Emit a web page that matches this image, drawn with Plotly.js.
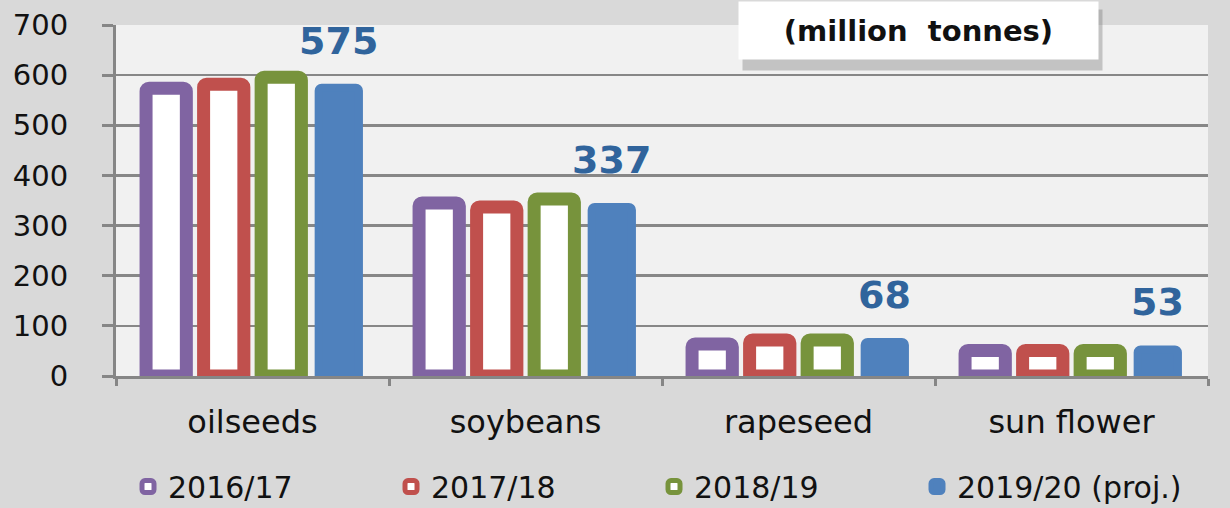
<!DOCTYPE html>
<html>
<head>
<meta charset="utf-8">
<script src="https://cdn.plot.ly/plotly-3.0.1.min.js"></script>
<style>
html,body{margin:0;padding:0;background:#d9d9d9;}
#chart{width:1230px;height:508px;}
</style>
</head>
<body>
<div id="chart"></div>
<script>
// Data (million tonnes)
const categories = ["oilseeds", "soybeans", "rapeseed", "sun\u00a0flower"];
const seriesNames = ["2016/17", "2017/18", "2018/19", "2019/20 (proj.)"];
const v2016 = [574, 345, 64, 51];
const v2017 = [582, 337, 72, 51];
const v2018 = [596, 353, 72, 51];
const v2019 = [575, 337, 68, 53];
const labelValues = [575, 337, 68, 53];
const yTicks = [0, 100, 200, 300, 400, 500, 600, 700];
const unitText = "(million\u00a0\u00a0tonnes)";

const colors = ["#8064A2", "#C0504D", "#77933C", "#4F81BD"];
const allValues = [v2016, v2017, v2018, v2019];

const traces = allValues.map((vals, i) => {
  const outlined = i < 3;
  return {
    type: "bar",
    name: seriesNames[i],
    x: categories,
    y: vals,
    marker: {
      color: outlined ? "#ffffff" : colors[i],
      line: {color: colors[i], width: outlined ? 13 : 8},
      cornerradius: 3
    },
    hoverinfo: "skip"
  };
});

const annotations = [];
// shadow of the unit box
annotations.push({
  xref: "paper", yref: "paper",
  x: (742 - 116) / 1092, y: (376 - 9) / 351,
  xanchor: "left", yanchor: "top",
  text: " ", showarrow: false,
  width: 359, height: 60, borderpad: 0,
  bgcolor: "rgba(110,110,110,0.35)"
});
annotations.push({
  xref: "paper", yref: "paper",
  x: (738 - 116) / 1092, y: (376 - 1) / 351,
  xanchor: "left", yanchor: "top",
  text: "<b>" + unitText + "</b>", showarrow: false,
  width: 359, height: 57, borderpad: 0,
  bgcolor: "#ffffff",
  font: {family: "DejaVu Sans", size: 29, color: "#111111"}
});
labelValues.forEach((v, i) => {
  annotations.push({
    xref: "x", yref: "y",
    x: categories[i], y: v,
    xshift: 86, yshift: 47,
    xanchor: "center", yanchor: "middle",
    text: "<b>" + v + "</b>", showarrow: false,
    font: {family: "DejaVu Sans", size: 38, color: "#30649C"}
  });
});

const layout = {
  width: 1230, height: 508,
  paper_bgcolor: "#d9d9d9",
  plot_bgcolor: "#f1f1f1",
  margin: {l: 116, r: 22, t: 25, b: 132, pad: 0, autoexpand: false},
  barmode: "group",
  bargap: 0.157,
  bargroupgap: 0.30,
  showlegend: true,
  legend: {
    orientation: "h",
    x: 0.011, xanchor: "left",
    y: -0.315, yanchor: "middle",
    entrywidth: 218, entrywidthmode: "pixels",
    font: {family: "DejaVu Sans", size: 30, color: "#111111"},
    bgcolor: "rgba(0,0,0,0)",
    borderwidth: 0,
    traceorder: "normal"
  },
  xaxis: {
    type: "category",
    showgrid: false,
    showline: true, linecolor: "#868686", linewidth: 3,
    ticks: "outside", tickson: "boundaries", ticklen: 7, tickwidth: 3, tickcolor: "#868686",
    ticklabelstandoff: 16,
    tickfont: {family: "DejaVu Sans", size: 32, color: "#111111"},
    zeroline: false, fixedrange: true
  },
  yaxis: {
    range: [0, 700],
    tickvals: yTicks, ticktext: yTicks.map(String),
    showgrid: true, gridcolor: "#878787", gridwidth: 2.5,
    showline: true, linecolor: "#868686", linewidth: 3,
    ticks: "outside", ticklen: 11, tickwidth: 3, tickcolor: "#868686",
    ticklabelstandoff: 28,
    tickfont: {family: "DejaVu Sans", size: 29, color: "#111111"},
    zeroline: false, fixedrange: true
  },
  annotations: annotations
};

Plotly.newPlot("chart", traces, layout, {displayModeBar: false, staticPlot: true});
</script>
</body>
</html>
